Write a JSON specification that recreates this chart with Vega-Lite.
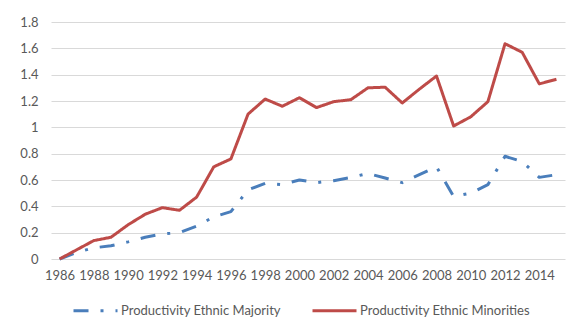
{
  "$schema": "https://vega.github.io/schema/vega-lite/v6.json",
  "width": 514,
  "height": 237,
  "autosize": {"type": "none"},
  "padding": {"left": 51, "top": 22, "right": 11, "bottom": 70},
  "background": "white",
  "config": {
    "font": "Lato",
    "view": {"stroke": null},
    "axis": {
      "labelFont": "Lato",
      "labelFontSize": 13,
      "labelColor": "#595959",
      "gridColor": "#d9d9d9",
      "gridWidth": 1,
      "ticks": false,
      "domain": false,
      "title": null
    }
  },
  "data": {
    "values": [
      {"year": 1986, "series": "Productivity Ethnic Majority", "value": 0},
      {"year": 1987, "series": "Productivity Ethnic Majority", "value": 0.05},
      {"year": 1988, "series": "Productivity Ethnic Majority", "value": 0.085},
      {"year": 1989, "series": "Productivity Ethnic Majority", "value": 0.10},
      {"year": 1990, "series": "Productivity Ethnic Majority", "value": 0.13},
      {"year": 1991, "series": "Productivity Ethnic Majority", "value": 0.165},
      {"year": 1992, "series": "Productivity Ethnic Majority", "value": 0.19},
      {"year": 1993, "series": "Productivity Ethnic Majority", "value": 0.20},
      {"year": 1994, "series": "Productivity Ethnic Majority", "value": 0.25},
      {"year": 1995, "series": "Productivity Ethnic Majority", "value": 0.32},
      {"year": 1996, "series": "Productivity Ethnic Majority", "value": 0.36},
      {"year": 1997, "series": "Productivity Ethnic Majority", "value": 0.525},
      {"year": 1998, "series": "Productivity Ethnic Majority", "value": 0.575},
      {"year": 1999, "series": "Productivity Ethnic Majority", "value": 0.565},
      {"year": 2000, "series": "Productivity Ethnic Majority", "value": 0.60},
      {"year": 2001, "series": "Productivity Ethnic Majority", "value": 0.58},
      {"year": 2002, "series": "Productivity Ethnic Majority", "value": 0.595},
      {"year": 2003, "series": "Productivity Ethnic Majority", "value": 0.62},
      {"year": 2004, "series": "Productivity Ethnic Majority", "value": 0.65},
      {"year": 2005, "series": "Productivity Ethnic Majority", "value": 0.615},
      {"year": 2006, "series": "Productivity Ethnic Majority", "value": 0.58},
      {"year": 2007, "series": "Productivity Ethnic Majority", "value": 0.64},
      {"year": 2008, "series": "Productivity Ethnic Majority", "value": 0.70},
      {"year": 2009, "series": "Productivity Ethnic Majority", "value": 0.475},
      {"year": 2010, "series": "Productivity Ethnic Majority", "value": 0.50},
      {"year": 2011, "series": "Productivity Ethnic Majority", "value": 0.565},
      {"year": 2012, "series": "Productivity Ethnic Majority", "value": 0.78},
      {"year": 2013, "series": "Productivity Ethnic Majority", "value": 0.74},
      {"year": 2014, "series": "Productivity Ethnic Majority", "value": 0.62},
      {"year": 2015, "series": "Productivity Ethnic Majority", "value": 0.64},
      {"year": 1986, "series": "Productivity Ethnic Minorities", "value": 0},
      {"year": 1987, "series": "Productivity Ethnic Minorities", "value": 0.07},
      {"year": 1988, "series": "Productivity Ethnic Minorities", "value": 0.14},
      {"year": 1989, "series": "Productivity Ethnic Minorities", "value": 0.165},
      {"year": 1990, "series": "Productivity Ethnic Minorities", "value": 0.26},
      {"year": 1991, "series": "Productivity Ethnic Minorities", "value": 0.34},
      {"year": 1992, "series": "Productivity Ethnic Minorities", "value": 0.39},
      {"year": 1993, "series": "Productivity Ethnic Minorities", "value": 0.37},
      {"year": 1994, "series": "Productivity Ethnic Minorities", "value": 0.47},
      {"year": 1995, "series": "Productivity Ethnic Minorities", "value": 0.70},
      {"year": 1996, "series": "Productivity Ethnic Minorities", "value": 0.76},
      {"year": 1997, "series": "Productivity Ethnic Minorities", "value": 1.10},
      {"year": 1998, "series": "Productivity Ethnic Minorities", "value": 1.215},
      {"year": 1999, "series": "Productivity Ethnic Minorities", "value": 1.16},
      {"year": 2000, "series": "Productivity Ethnic Minorities", "value": 1.225},
      {"year": 2001, "series": "Productivity Ethnic Minorities", "value": 1.15},
      {"year": 2002, "series": "Productivity Ethnic Minorities", "value": 1.195},
      {"year": 2003, "series": "Productivity Ethnic Minorities", "value": 1.21},
      {"year": 2004, "series": "Productivity Ethnic Minorities", "value": 1.30},
      {"year": 2005, "series": "Productivity Ethnic Minorities", "value": 1.305},
      {"year": 2006, "series": "Productivity Ethnic Minorities", "value": 1.185},
      {"year": 2007, "series": "Productivity Ethnic Minorities", "value": 1.29},
      {"year": 2008, "series": "Productivity Ethnic Minorities", "value": 1.39},
      {"year": 2009, "series": "Productivity Ethnic Minorities", "value": 1.01},
      {"year": 2010, "series": "Productivity Ethnic Minorities", "value": 1.08},
      {"year": 2011, "series": "Productivity Ethnic Minorities", "value": 1.195},
      {"year": 2012, "series": "Productivity Ethnic Minorities", "value": 1.635},
      {"year": 2013, "series": "Productivity Ethnic Minorities", "value": 1.57},
      {"year": 2014, "series": "Productivity Ethnic Minorities", "value": 1.33},
      {"year": 2015, "series": "Productivity Ethnic Minorities", "value": 1.365}
    ]
  },
  "mark": {"type": "line", "strokeWidth": 3, "strokeCap": "butt", "strokeJoin": "round"},
  "encoding": {
    "x": {
      "field": "year",
      "type": "quantitative",
      "scale": {"domain": [1985.5, 2015.5], "nice": false, "zero": false},
      "axis": {
        "values": [1986, 1988, 1990, 1992, 1994, 1996, 1998, 2000, 2002, 2004, 2006, 2008, 2010, 2012, 2014],
        "format": "d",
        "grid": false,
        "labelPadding": 10,
        "labelFlush": false,
        "labelOverlap": false
      }
    },
    "y": {
      "field": "value",
      "type": "quantitative",
      "scale": {"domain": [0, 1.8], "nice": false},
      "axis": {
        "values": [0, 0.2, 0.4, 0.6, 0.8, 1, 1.2, 1.4, 1.6, 1.8],
        "format": "~g",
        "grid": true,
        "labelPadding": 13
      }
    },
    "color": {
      "field": "series",
      "type": "nominal",
      "scale": {
        "domain": ["Productivity Ethnic Majority", "Productivity Ethnic Minorities"],
        "range": ["#4a7ebb", "#be4b48"]
      },
      "legend": {
        "title": null,
        "orient": "none",
        "direction": "horizontal",
        "legendX": 21,
        "legendY": 265,
        "symbolType": "stroke",
        "symbolSize": 1936,
        "symbolStrokeWidth": 3,
        "labelFont": "Lato",
        "labelFontSize": 13,
        "labelColor": "#595959",
        "labelLimit": 0,
        "labelOffset": 2,
        "columnPadding": 25
      }
    },
    "strokeDash": {
      "field": "series",
      "type": "nominal",
      "scale": {
        "domain": ["Productivity Ethnic Majority", "Productivity Ethnic Minorities"],
        "range": [[15, 12, 3, 12], [1, 0]]
      },
      "legend": {
        "title": null,
        "orient": "none",
        "direction": "horizontal",
        "legendX": 21,
        "legendY": 265,
        "symbolType": "stroke",
        "symbolSize": 1936,
        "symbolStrokeWidth": 3,
        "labelFont": "Lato",
        "labelFontSize": 13,
        "labelColor": "#595959",
        "labelLimit": 0,
        "labelOffset": 2,
        "columnPadding": 25
      }
    }
  }
}
